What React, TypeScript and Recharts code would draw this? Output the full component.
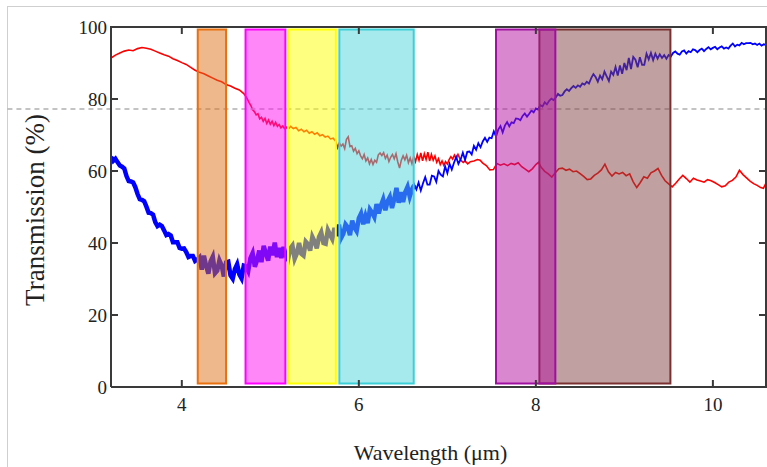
import React from 'react';
import { LineChart, Line, XAxis, YAxis, ReferenceArea, ReferenceLine, Label } from 'recharts';

const X_DOMAIN: [number, number] = [3.2, 10.6];
const Y_DOMAIN: [number, number] = [0, 100];
const X_TICKS = [4, 6, 8, 10];
const Y_TICKS = [0, 20, 40, 60, 80, 100];

// filter pass bands, wavelength (um)
const bandStart = [4.18, 4.72, 5.2, 5.78, 8.04, 7.55];
const bandEnd = [4.5, 5.17, 5.74, 6.62, 9.52, 8.22];
const BAND_BOTTOM = 1;
const BAND_TOP = 99.3;

const REF_LEVEL = 77.2;

// red trace: [wavelength, transmission]
const redTrace: [number, number][] = [
  [3.2, 91.4], [3.25, 92.2], [3.3, 92.8], [3.35, 93.3], [3.4, 93.6], [3.45, 93.4], [3.5, 94.0],
  [3.55, 94.3], [3.6, 94.1], [3.65, 93.8], [3.7, 93.3], [3.75, 92.8], [3.8, 92.3], [3.85, 91.9],
  [3.9, 91.2], [3.95, 90.7], [4.0, 90.1], [4.05, 89.6], [4.1, 88.8], [4.15, 88.0], [4.2, 87.4],
  [4.25, 87.0], [4.3, 86.4], [4.35, 85.8], [4.4, 85.2], [4.45, 84.8], [4.5, 84.0], [4.55, 83.6],
  [4.6, 83.0], [4.65, 82.5], [4.7, 81.5], [4.73, 80.5], [4.76, 79.0], [4.78, 78.2], [4.8, 77.0],
  [4.82, 76.5], [4.84, 75.6], [4.86, 75.9], [4.88, 74.5], [4.9, 74.9], [4.92, 73.8], [4.94, 74.6],
  [4.96, 73.2], [4.98, 74.2], [5.0, 73.0], [5.02, 73.8], [5.04, 72.6], [5.06, 73.5], [5.08, 72.4],
  [5.1, 72.9], [5.12, 72.0], [5.14, 72.5], [5.16, 71.8], [5.18, 72.2], [5.2, 71.5], [5.23, 72.4],
  [5.26, 71.8], [5.29, 72.1], [5.32, 71.2], [5.35, 71.6], [5.38, 70.9], [5.41, 71.3], [5.44, 70.5],
  [5.47, 70.9], [5.5, 70.2], [5.53, 70.6], [5.56, 69.8], [5.59, 70.1], [5.62, 69.4], [5.65, 69.7],
  [5.68, 68.9], [5.71, 69.1], [5.74, 68.2], [5.76, 66.5], [5.78, 67.8], [5.8, 66.9], [5.82, 67.5],
  [5.84, 66.2], [5.86, 68.8], [5.88, 69.5], [5.9, 66.8], [5.92, 67.0], [5.94, 65.5], [5.96, 66.3],
  [5.98, 64.8], [6.0, 65.6], [6.02, 64.2], [6.04, 63.4], [6.06, 64.6], [6.08, 62.8], [6.1, 63.6],
  [6.12, 62.0], [6.14, 63.2], [6.16, 61.8], [6.18, 63.0], [6.2, 62.4], [6.22, 64.5], [6.24, 65.0],
  [6.26, 64.3], [6.28, 65.1], [6.3, 63.5], [6.32, 64.4], [6.34, 62.6], [6.36, 63.8], [6.38, 64.6],
  [6.4, 63.4], [6.42, 64.8], [6.44, 62.5], [6.46, 60.8], [6.48, 63.0], [6.5, 64.2], [6.52, 63.1],
  [6.54, 64.4], [6.56, 62.3], [6.58, 63.6], [6.6, 62.0], [6.62, 64.0], [6.64, 62.6], [6.66, 64.6],
  [6.68, 63.0], [6.7, 65.0], [6.72, 62.8], [6.74, 64.8], [6.76, 63.2], [6.78, 65.2], [6.8, 62.8],
  [6.82, 64.6], [6.84, 63.0], [6.86, 64.2], [6.88, 62.4], [6.9, 63.4], [6.92, 61.8], [6.94, 62.8],
  [6.96, 61.6], [6.98, 62.6], [7.0, 61.9], [7.02, 63.2], [7.04, 64.0], [7.06, 63.3], [7.08, 64.4],
  [7.1, 63.5], [7.12, 64.6], [7.15, 63.0], [7.18, 62.4], [7.2, 62.8], [7.23, 62.0], [7.26, 62.6],
  [7.3, 62.8], [7.34, 63.2], [7.37, 63.0], [7.4, 62.2], [7.44, 61.5], [7.48, 60.3], [7.52, 60.4],
  [7.56, 62.1], [7.6, 61.6], [7.64, 62.0], [7.68, 61.5], [7.72, 62.1], [7.76, 61.8], [7.8, 62.3],
  [7.84, 61.2], [7.88, 60.5], [7.92, 59.8], [7.96, 60.6], [8.0, 61.8], [8.03, 62.4], [8.06, 61.0],
  [8.1, 59.9], [8.14, 59.2], [8.18, 58.3], [8.22, 59.5], [8.26, 60.6], [8.3, 60.8], [8.34, 60.2],
  [8.38, 60.5], [8.42, 59.8], [8.46, 60.0], [8.5, 59.3], [8.54, 58.5], [8.58, 57.6], [8.62, 57.8],
  [8.66, 58.8], [8.7, 59.4], [8.74, 60.3], [8.78, 61.9], [8.82, 59.8], [8.86, 58.6], [8.9, 59.6],
  [8.94, 59.2], [8.98, 59.6], [9.02, 58.7], [9.06, 59.2], [9.1, 57.0], [9.14, 55.4], [9.18, 56.8],
  [9.22, 58.4], [9.26, 58.0], [9.3, 59.5], [9.34, 60.0], [9.38, 60.7], [9.42, 58.8], [9.46, 57.3],
  [9.5, 56.4], [9.54, 55.6], [9.58, 56.6], [9.62, 57.8], [9.66, 58.8], [9.7, 57.9], [9.74, 56.9],
  [9.78, 58.0], [9.82, 57.5], [9.86, 57.2], [9.9, 56.9], [9.94, 57.6], [9.98, 57.3], [10.02, 56.8],
  [10.06, 56.2], [10.1, 55.6], [10.14, 55.9], [10.18, 56.9], [10.22, 57.4], [10.26, 58.3],
  [10.3, 60.2], [10.34, 59.0], [10.38, 58.1], [10.42, 57.2], [10.46, 56.5], [10.5, 56.0],
  [10.54, 55.4], [10.57, 55.2], [10.6, 56.6],
];

// blue trace, sampled every 0.025 um
const BLUE_STEP = 0.025;
const blueNoisyStart = 3.2;
const blueNoisy = [
  // 3.2 - 4.175
  63.9, 62.8, 63.4, 62.4, 61.5, 61.2, 60.7, 58.6, 57.2, 57.1, 56.8, 55.5, 53.6, 52.2, 52.0, 51.6,
  50.1, 48.4, 48.3, 47.9, 45.8, 44.7, 45.1, 44.7, 43.5, 42.2, 42.5, 42.1, 40.2, 40.2, 40.2, 38.6,
  38.4, 38.5, 37.5, 36.1, 36.4, 36.4, 35.0, 35.4,
  // 4.2 - 5.175
  36.0, 32.6, 36.5, 33.6, 31.5, 34.9, 36.2, 31.6, 32.3, 35.2, 33.8, 30.7, 34.6, 34.8, 31.0, 30.1,
  32.8, 34.1, 31.3, 30.2, 33.7, 33.5, 32.2, 35.8, 37.2, 33.4, 35.2, 37.9, 34.7, 39.2, 37.2, 35.1,
  39.0, 36.6, 40.1, 36.1, 38.6, 35.8, 38.9, 36.5,
  // 5.2 - 6.175
  35.4, 38.5, 39.3, 35.6, 37.1, 40.0, 37.0, 36.5, 40.4, 39.7, 37.9, 41.7, 40.4, 38.5, 41.7, 43.0,
  40.0, 39.8, 43.6, 42.3, 41.1, 44.2, 42.0, 45.1, 41.4, 42.6, 45.2, 44.4, 42.2, 46.2, 44.3, 43.3,
  46.9, 48.2, 45.2, 47.5, 45.5, 49.3, 48.4, 47.2,
  // 6.2 - 6.625
  50.8, 48.2, 50.4, 52.1, 49.1, 51.6, 52.8, 49.7, 52.2, 55.3, 51.2, 54.1, 51.4, 54.2, 55.6, 52.9,
  54.9, 56.1,
];
const blueCleanStart = 6.6;
const blueClean = [
  53.5, 56.3, 54.9, 56.8, 54.6, 56.6, 58.3, 56.2, 56.2, 58.7, 58.5, 57.0, 60.0, 59.0, 58.5, 61.3,
  59.4, 62.0, 60.4, 62.3, 63.9, 62.0, 63.2, 65.1, 63.1, 65.3, 65.4, 64.6, 67.0, 65.9, 67.7, 66.6,
  68.2, 69.2, 68.1, 69.3,
  69.1, 71.0, 69.6, 71.5, 72.5, 70.7, 72.6, 73.6, 72.4, 73.5, 73.3, 74.6, 74.5, 74.1, 75.3, 76.0,
  75.1, 75.9, 76.8, 76.3,
  77.4, 77.1, 78.3, 77.9, 79.1, 78.5, 79.5, 80.1, 79.7, 80.4, 81.4, 80.9, 81.1, 82.1, 82.7, 82.2,
  83.0, 83.6, 83.1, 83.8,
  83.4, 84.3, 84.0, 84.8, 84.3, 85.8, 86.9, 86.1, 84.8, 86.5, 85.5, 87.6, 86.3, 85.0, 87.6, 86.7,
  88.9, 86.5, 89.3, 87.0,
  90.0, 88.0, 91.4, 88.3, 91.7, 90.9, 88.8, 91.6, 89.5, 89.5, 92.6, 91.0, 92.8, 90.8, 92.6, 91.2,
  92.4, 91.4, 92.2, 91.2,
  92.2, 91.8, 92.8, 93.2, 92.6, 92.3, 93.2, 93.5, 92.6, 93.3, 93.0, 93.8, 93.6, 93.0, 93.6, 94.0,
  93.3, 93.9, 94.4, 93.8,
  94.2, 94.5, 93.8, 94.3, 94.6, 94.0, 94.3, 94.0, 94.8, 95.4, 94.6, 95.1, 94.9, 95.6, 95.2, 95.5,
  95.5, 95.6, 95.2, 95.4, 95.0, 95.4, 94.8, 95.2, 95.0,
];

const BAND_FILLS = ['#E0701A', '#FF10F0', '#FFFF00', '#50D5DD', '#814141', '#B311A1'];
const BAND_STROKES = ['#E8700E', '#FF00FF', '#FFFF00', '#3CCFD8', '#7A3030', '#A010A0'];

const FONT = '"Liberation Serif", "Times New Roman", serif';
const AXIS_COLOR = '#3a3a3a';
const TEXT_COLOR = '#222';

// layout
const W = 767;
const H = 467;
const MARGIN = { top: 27, right: 1, bottom: 0, left: 51 };
const Y_AXIS_W = 60;
const X_AXIS_H = 80;
const PLOT_W = W - MARGIN.left - Y_AXIS_W - MARGIN.right;
const PLOT_H = H - MARGIN.top - X_AXIS_H - MARGIN.bottom;
const TICK_PX = 7;

const toPoints = (start: number, values: number[]) =>
  values.map((y, i) => ({ x: +(start + i * BLUE_STEP).toFixed(3), y }));

const redData = redTrace.map(([x, y]) => ({ x, y }));
const blueNoisyData = toPoints(blueNoisyStart, blueNoisy);
const blueCleanData = toPoints(blueCleanStart, blueClean);

// bottom tick: inward mark on the bottom and the top edge, label under the axis
const BottomTick = ({ x, y, payload }: any) => (
  <g>
    <line x1={x} y1={y} x2={x} y2={y - TICK_PX} stroke={AXIS_COLOR} strokeWidth={2} />
    <line x1={x} y1={y - PLOT_H} x2={x} y2={y - PLOT_H + TICK_PX} stroke={AXIS_COLOR} strokeWidth={2} />
    <text x={x} y={y + 24} textAnchor="middle" fill={TEXT_COLOR} fontSize={19} fontFamily={FONT}>
      {payload.value}
    </text>
  </g>
);

// left tick: inward mark on the left and the right edge, label left of the axis
const LeftTick = ({ x, y, payload }: any) => (
  <g>
    <line x1={x} y1={y} x2={x + TICK_PX} y2={y} stroke={AXIS_COLOR} strokeWidth={2} />
    <line x1={x + PLOT_W} y1={y} x2={x + PLOT_W - TICK_PX} y2={y} stroke={AXIS_COLOR} strokeWidth={2} />
    <text x={x - 4} y={y + 6.5} textAnchor="end" fill={TEXT_COLOR} fontSize={19} fontFamily={FONT}>
      {payload.value}
    </text>
  </g>
);

export default function App() {
  return (
    <div style={{ position: 'absolute', left: 0, top: 0, width: W, height: H, background: '#fff', overflow: 'hidden' }}>
      <div
        style={{
          position: 'absolute', left: 7, top: 6, right: 0, bottom: 0,
          borderLeft: '1px solid #cfcfcf', borderTop: '1px solid #cfcfcf',
        }}
      />
      <LineChart width={W} height={H} margin={MARGIN} style={{ position: 'absolute', left: 0, top: 0 }}>
        <XAxis
          type="number"
          dataKey="x"
          domain={X_DOMAIN}
          allowDataOverflow
          ticks={X_TICKS}
          height={X_AXIS_H}
          tickSize={0}
          tickMargin={0}
          tickLine={false}
          tick={<BottomTick />}
          axisLine={{ stroke: AXIS_COLOR, strokeWidth: 2 }}
        >
          <Label value="Wavelength (μm)" position="center" dx={-8} dy={25} style={{ fontSize: 22, fill: TEXT_COLOR, fontFamily: FONT }} />
        </XAxis>
        <YAxis
          type="number"
          domain={Y_DOMAIN}
          ticks={Y_TICKS}
          width={Y_AXIS_W}
          tickSize={0}
          tickMargin={0}
          tickLine={false}
          tick={<LeftTick />}
          axisLine={{ stroke: AXIS_COLOR, strokeWidth: 2 }}
        >
          <Label value="Transmission (%)" angle={-90} position="center" dx={-47} dy={3} style={{ fontSize: 27, fill: TEXT_COLOR, fontFamily: FONT, textAnchor: 'middle' }} />
        </YAxis>

        <Line data={redData} dataKey="y" stroke="#ff0000" strokeWidth={1.6} dot={false} isAnimationActive={false} />
        <Line data={blueNoisyData} dataKey="y" stroke="#0000ff" strokeWidth={4.5} dot={false} isAnimationActive={false} />
        <Line data={blueCleanData} dataKey="y" stroke="#0000ff" strokeWidth={1.8} dot={false} isAnimationActive={false} />

        <ReferenceLine
          segment={[{ x: 2.03, y: REF_LEVEL }, { x: X_DOMAIN[1], y: REF_LEVEL }]}
          ifOverflow="visible"
          stroke="#b0b0b0"
          strokeWidth={1.5}
          strokeDasharray="5 4"
        />

        {/* translucent bands sit above the traces, tinting them */}
        {bandStart.map((x1, i) => (
          <ReferenceArea
            key={i}
            x1={x1}
            x2={bandEnd[i]}
            y1={BAND_BOTTOM}
            y2={BAND_TOP}
            fill={BAND_FILLS[i]}
            fillOpacity={0.5}
            stroke={BAND_STROKES[i]}
            strokeWidth={2}
            zIndex={600}
          />
        ))}
      </LineChart>
      {/* top and right edges of the plot frame */}
      <div
        style={{
          position: 'absolute',
          left: MARGIN.left + Y_AXIS_W - 1,
          top: MARGIN.top - 1,
          width: PLOT_W + 2,
          height: PLOT_H + 2,
          boxSizing: 'border-box',
          borderTop: `2px solid ${AXIS_COLOR}`,
          borderRight: `2px solid ${AXIS_COLOR}`,
          pointerEvents: 'none',
        }}
      />
    </div>
  );
}
